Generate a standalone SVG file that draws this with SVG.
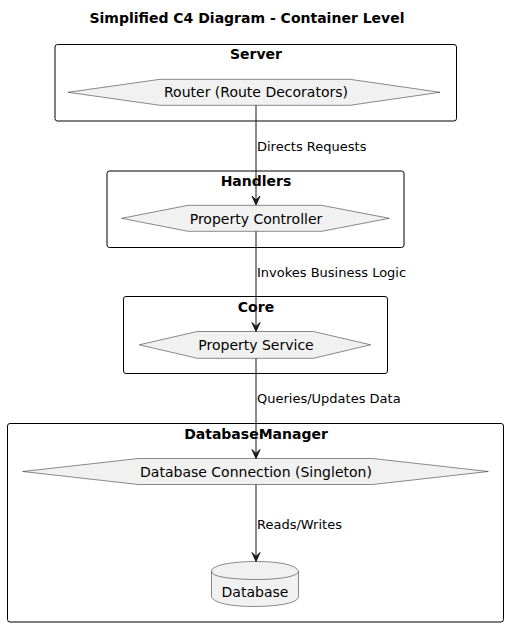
<svg xmlns="http://www.w3.org/2000/svg" width="508" height="627" viewBox="0 0 508 627">
<defs>
<style>
.bg{fill:#FFFFFF}
.box{fill:none;stroke:#000000;stroke-width:1}
.hex{fill:#F1F1F1;stroke:#181818;stroke-width:0.5}
.t{font-family:"DejaVu Sans",sans-serif;font-size:14px;fill:#000000;text-anchor:middle}
.b{font-family:"DejaVu Sans",sans-serif;font-size:14px;font-weight:bold;fill:#000000;text-anchor:middle}
.l{font-family:"DejaVu Sans",sans-serif;font-size:13px;fill:#000000}
.edge{stroke:#181818;stroke-width:1;fill:none}
.head{fill:#181818;stroke:#181818;stroke-width:1}
</style>
</defs>
<rect class="bg" x="0" y="0" width="508" height="627"/>
<text class="b" x="247" y="23">Simplified C4 Diagram - Container Level</text>

<g id="server">
<rect class="box" x="55" y="44.5" width="401.5" height="76.5" rx="2.5"/>
<text class="b" x="256" y="59">Server</text>
</g>
<g id="router">
<polygon class="hex" points="68,92.3 160,79.3 350,79.3 440,92.3 350,105.3 160,105.3"/>
<text class="t" x="256" y="97">Router (Route Decorators)</text>
</g>

<g id="handlers">
<rect class="box" x="107" y="171" width="297" height="76.5" rx="2.5"/>
<text class="b" x="256" y="186">Handlers</text>
</g>
<g id="controller">
<polygon class="hex" points="121.7,218.3 188,205.3 321.7,205.3 389.3,218.3 321.7,231.3 188,231.3"/>
<text class="t" x="256" y="223.5">Property Controller</text>
</g>

<g id="core">
<rect class="box" x="123.5" y="296.5" width="264" height="77" rx="2.5"/>
<text class="b" x="256" y="312">Core</text>
</g>
<g id="service">
<polygon class="hex" points="139.3,344.8 197.3,331.5 313.3,331.5 370.7,344.8 313.3,358.3 197.3,358.3"/>
<text class="t" x="256" y="350">Property Service</text>
</g>

<g id="databasemanager">
<rect class="box" x="7.5" y="423.5" width="496" height="198.5" rx="2.5"/>
<text class="b" x="256" y="438.5">DatabaseManager</text>
</g>
<g id="connection">
<polygon class="hex" points="22.7,471.5 138.3,458.5 372.7,458.5 488.3,471.5 372.7,484.5 138.3,484.5"/>
<text class="t" x="256" y="476.5">Database Connection (Singleton)</text>
</g>
<g id="database">
<path class="hex" d="M211.5,571.5 C211.5,561.5 255,561.5 255,561.5 C298.5,561.5 298.5,571.5 298.5,571.5 L298.5,596.5 C298.5,606.5 255,606.5 255,606.5 C211.5,606.5 211.5,596.5 211.5,596.5 Z"/>
<path class="hex" style="fill:none" d="M211.5,571.5 C211.5,579.5 255,579.5 255,579.5 C298.5,579.5 298.5,571.5 298.5,571.5"/>
<text class="t" x="255" y="597">Database</text>
</g>

<g id="connectors">
<line class="edge" x1="256" y1="105.3" x2="256" y2="203"/>
<polygon class="head" points="256,205 252,196 256,200 260,196"/>
<text class="l" x="257" y="151">Directs Requests</text>

<line class="edge" x1="256" y1="231.3" x2="256" y2="329.5"/>
<polygon class="head" points="256,331.5 252,322.5 256,326.5 260,322.5"/>
<text class="l" x="257" y="277">Invokes Business Logic</text>

<line class="edge" x1="256" y1="358.3" x2="256" y2="456.5"/>
<polygon class="head" points="256,458.5 252,449.5 256,453.5 260,449.5"/>
<text class="l" x="257" y="403">Queries/Updates Data</text>

<line class="edge" x1="256" y1="484.5" x2="256" y2="559.5"/>
<polygon class="head" points="256,561.5 252,552.5 256,556.5 260,552.5"/>
<text class="l" x="257" y="529">Reads/Writes</text>
</g>
</svg>
